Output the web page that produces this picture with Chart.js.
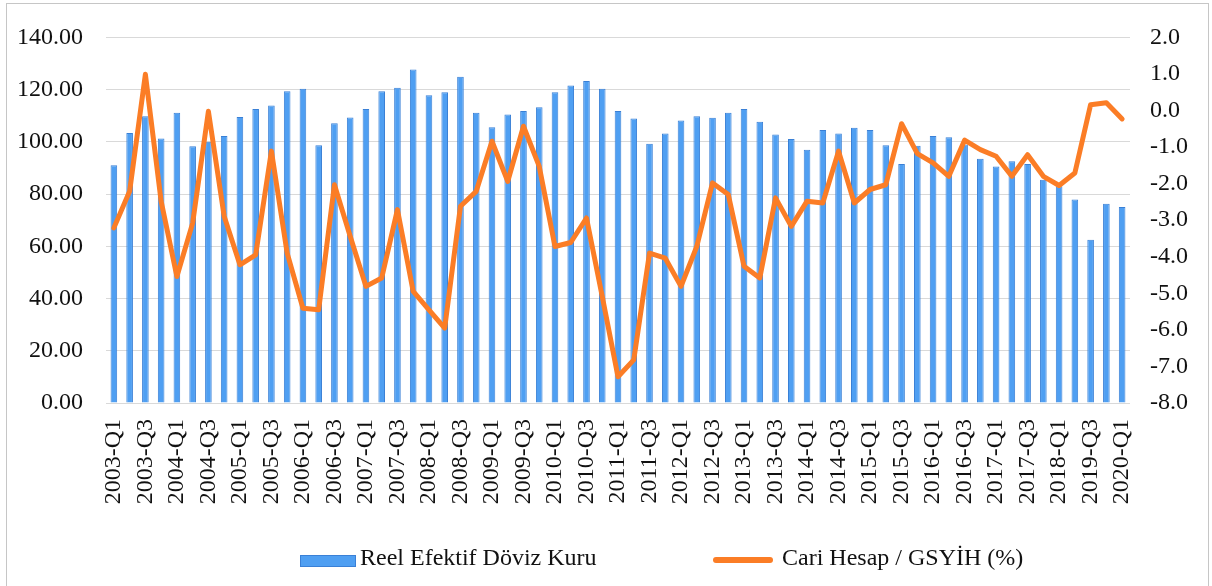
<!DOCTYPE html>
<html>
<head>
<meta charset="utf-8">
<script src="https://cdn.jsdelivr.net/npm/chart.js@4/dist/chart.umd.min.js"></script>
<style>
  body { margin: 0; background: #fff; }
  #wrap { position: relative; width: 1212px; height: 586px; overflow: hidden; background: #fff; }
  #frame { position: absolute; left: 6px; top: 3px; width: 1201px; height: 600px; border: 1px solid #c6c6c6; }
  #chartCanvas { position: absolute; left: 0; top: 0; }
  .leg { position: absolute; font-family: 'Liberation Serif', serif; font-size: 24px; color: #111; white-space: nowrap; }
  .box { position: absolute; left: 300px; top: 555px; width: 54px; height: 10px; background: #4f9ff2; border: 1px solid #3a80d6; }
  .ln { position: absolute; left: 713px; top: 557px; width: 60px; height: 6px; border-radius: 3px; background: #fb7d26; }
</style>
</head>
<body>
<div id="wrap">
  <div id="frame"></div>
  <canvas id="chartCanvas" width="1212" height="586"></canvas>
  <div class="box"></div>
  <div class="leg" style="left:360px; top:544px;">Reel Efektif Döviz Kuru</div>
  <div class="ln"></div>
  <div class="leg" style="left:782px; top:544px;">Cari Hesap / GSYİH (%)</div>
</div>
<script>
const quarters = [
  '2003-Q1', '2003-Q2', '2003-Q3', '2003-Q4',
  '2004-Q1', '2004-Q2', '2004-Q3', '2004-Q4',
  '2005-Q1', '2005-Q2', '2005-Q3', '2005-Q4',
  '2006-Q1', '2006-Q2', '2006-Q3', '2006-Q4',
  '2007-Q1', '2007-Q2', '2007-Q3', '2007-Q4',
  '2008-Q1', '2008-Q2', '2008-Q3', '2008-Q4',
  '2009-Q1', '2009-Q2', '2009-Q3', '2009-Q4',
  '2010-Q1', '2010-Q2', '2010-Q3', '2010-Q4',
  '2011-Q1', '2011-Q2', '2011-Q3', '2011-Q4',
  '2012-Q1', '2012-Q2', '2012-Q3', '2012-Q4',
  '2013-Q1', '2013-Q2', '2013-Q3', '2013-Q4',
  '2014-Q1', '2014-Q2', '2014-Q3', '2014-Q4',
  '2015-Q1', '2015-Q2', '2015-Q3', '2015-Q4',
  '2016-Q1', '2016-Q2', '2016-Q3', '2016-Q4',
  '2017-Q1', '2017-Q2', '2017-Q3', '2017-Q4',
  '2018-Q1', '2019-Q2', '2019-Q3', '2019-Q4',
  '2020-Q1'
];

// Reel Efektif Döviz Kuru (left axis)
const reelKur = [
  91.0, 103.4, 109.8, 101.3, 111.1, 98.3, 100.0, 102.2, 109.5, 112.6,
  113.9, 119.4, 120.3, 98.7, 107.1, 109.3, 112.6, 119.4, 120.7, 127.7,
  117.8, 119.0, 124.9, 111.1, 105.6, 110.5, 111.8, 113.3, 119.0, 121.6,
  123.3, 120.3, 111.8, 108.9, 99.3, 103.2, 108.2, 109.8, 109.2, 111.1,
  112.6, 107.7, 102.8, 101.1, 97.0, 104.5, 103.2, 105.4, 104.5, 98.7,
  91.5, 98.5, 102.2, 101.8, 99.0, 93.5, 90.6, 92.6, 91.5, 85.5,
  83.0, 77.9, 62.5, 76.3, 75.1
];

// Cari Hesap / GSYİH (%) (right axis)
const cariHesap = [
  -3.21, -2.21, 0.99, -2.48, -4.54, -3.08, -0.02, -2.89, -4.22, -3.95,
  -1.11, -3.90, -5.41, -5.45, -2.03, -3.44, -4.81, -4.58, -2.71, -4.95,
  -5.45, -5.95, -2.62, -2.21, -0.84, -1.94, -0.43, -1.53, -3.72, -3.61,
  -2.94, -5.09, -7.28, -6.82, -3.90, -4.04, -4.81, -3.72, -1.98, -2.30,
  -4.26, -4.58, -2.39, -3.17, -2.48, -2.53, -1.11, -2.53, -2.16, -2.03,
  -0.36, -1.18, -1.43, -1.80, -0.81, -1.07, -1.25, -1.80, -1.21, -1.80,
  -2.05, -1.71, 0.16, 0.21, -0.23
];

const tickFont = { family: "'Liberation Serif', serif", size: 24 };
const ctx = document.getElementById('chartCanvas').getContext('2d');

const chart = new Chart(ctx, {
  type: 'bar',
  data: {
    labels: quarters,
    datasets: [{
      type: 'line',
      label: 'Cari Hesap / GSYİH (%)',
      data: cariHesap,
      yAxisID: 'y1',
      borderColor: '#fb7d26',
      backgroundColor: '#fb7d26',
      borderWidth: 5,
      pointRadius: 0,
      tension: 0,
      borderJoinStyle: 'round',
      borderCapStyle: 'round',
      order: 0
    }, {
      label: 'Reel Efektif Döviz Kuru',
      data: reelKur,
      yAxisID: 'y',
      backgroundColor: '#4f9ff2',
      borderColor: '#3a80d6',
      borderWidth: 1,
      barPercentage: 0.42,
      categoryPercentage: 1,
      order: 1
    }]
  },
  options: {
    responsive: false,
    animation: false,
    layout: { padding: { top: 30, left: 0, right: 0, bottom: 0 } },
    plugins: {
      legend: { display: false },
      tooltip: { enabled: false }
    },
    scales: {
      x: {
        grid: { display: false },
        border: { display: false },
        ticks: {
          autoSkip: false,
          maxRotation: 90,
          minRotation: 90,
          padding: 8,
          color: '#111',
          font: tickFont,
          callback: function (v, i) { return i % 2 === 0 ? this.getLabelForValue(v) : ''; }
        },
        afterFit: s => { s.height = 183; }
      },
      y: {
        position: 'left',
        min: 0,
        max: 140,
        border: { display: false },
        grid: { color: '#d9d9d9', drawTicks: false },
        ticks: {
          stepSize: 20,
          padding: 23,
          color: '#111',
          font: tickFont,
          callback: v => v.toFixed(2)
        },
        afterFit: s => { s.width = 106; }
      },
      y1: {
        position: 'right',
        min: -8,
        max: 2,
        border: { display: false },
        grid: { display: false, drawTicks: false },
        ticks: {
          stepSize: 1,
          padding: 20,
          color: '#111',
          font: tickFont,
          callback: v => v.toFixed(1)
        },
        afterFit: s => { s.width = 82; }
      }
    }
  }
});
</script>
</body>
</html>
